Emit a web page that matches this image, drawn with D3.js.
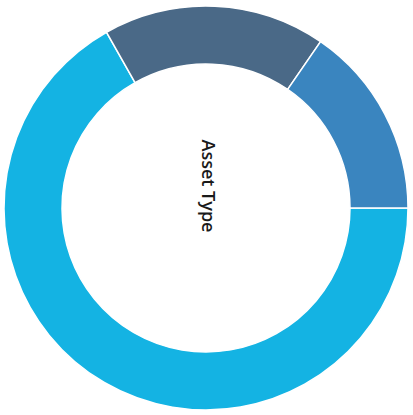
<!DOCTYPE html>
<html>
<head>
<meta charset="utf-8">
<script src="https://cdn.jsdelivr.net/npm/d3@7"></script>
<style>
  body { margin: 0; background: #fff; }
</style>
</head>
<body>
<div id="chart"></div>
<script>
// slice shares (percent of the ring)
const categories = ["Type A", "Type B", "Type C"];
const values = [66.8, 17.8, 15.4];
const colors = ["#14b3e3", "#4a6987", "#3a85bf"];
const title = "Asset Type";

const width = 413;
const height = 415;
const cx = 206, cy = 208;
const outerR = 202, innerR = 144;

const svg = d3.select("#chart")
  .append("svg")
    .attr("width", width)
    .attr("height", height)
    .attr("viewBox", [0, 0, width, height]);

const color = d3.scaleOrdinal(categories, colors);

const pie = d3.pie()
  .value((d, i) => values[i]);

const arc = d3.arc()
  .innerRadius(innerR)
  .outerRadius(outerR);

// the chart is turned a quarter clockwise, text included
const g = svg.append("g")
    .attr("transform", `translate(${cx},${cy}) rotate(90)`);

g.selectAll("path")
  .data(pie(categories))
  .join("path")
    .attr("d", arc)
    .attr("fill", d => color(d.data))
    .attr("stroke", "#fff")
    .attr("stroke-width", 1.5);

svg.append("text")
    .attr("transform", `translate(${cx + 2},186) rotate(90)`)
    .attr("text-anchor", "middle")
    .attr("dy", "0.35em")
    .style("font", "600 18px 'Open Sans', sans-serif")
    .attr("fill", "#1a1a1a")
    .text(title);
</script>
</body>
</html>
